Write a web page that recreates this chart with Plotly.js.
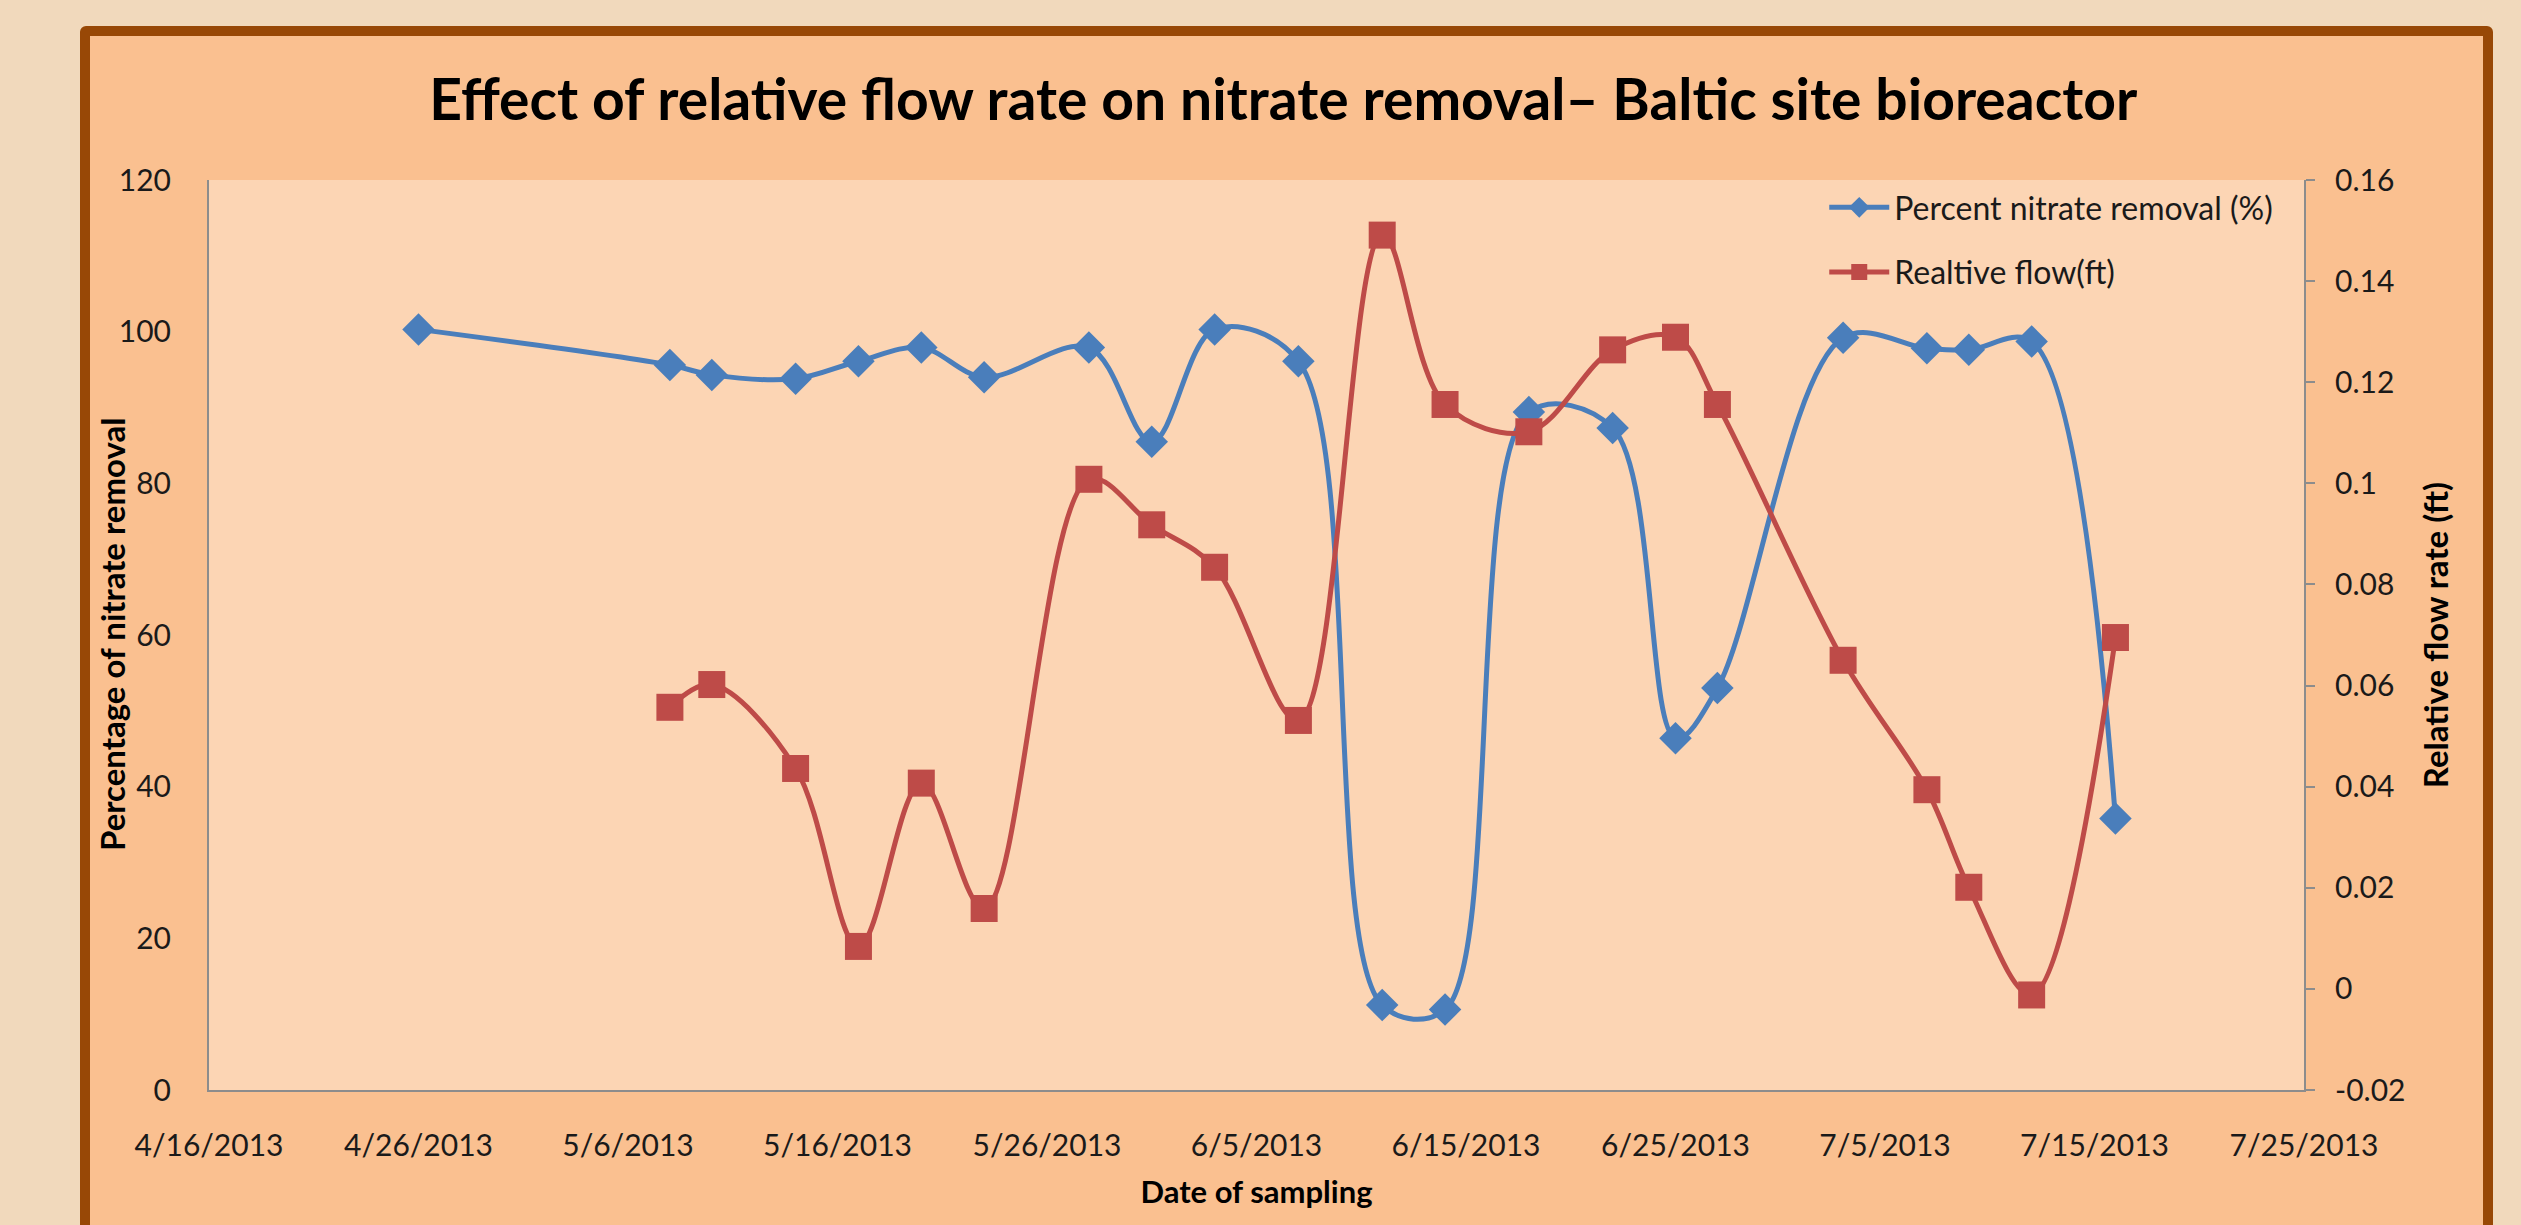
<!DOCTYPE html>
<html>
<head>
<meta charset="utf-8">
<script src="https://cdn.plot.ly/plotly-3.0.1.min.js"></script>
<style>
  html, body { margin: 0; padding: 0; width: 2521px; height: 1225px; overflow: hidden; background: #F1D9BC; }
  #frame { position: absolute; left: 80px; top: 26px; width: 2393px; height: 1300px; border: 10px solid #984806; border-radius: 6px; background: #FAC090; }
  #chart { position: absolute; left: 0; top: 0; width: 2521px; height: 1225px; }
</style>
</head>
<body>
<div id="frame"></div>
<div id="chart"></div>
<script>
// ---- data ----
const removalDates = ['2013-04-26','2013-05-08','2013-05-10','2013-05-14','2013-05-17','2013-05-20','2013-05-23','2013-05-28','2013-05-31','2013-06-03','2013-06-07','2013-06-11','2013-06-14','2013-06-18','2013-06-22','2013-06-25','2013-06-27','2013-07-03','2013-07-07','2013-07-09','2013-07-12','2013-07-16'];
const removalPercent = [100.3, 95.6, 94.3, 93.8, 96.1, 97.9, 94.0, 97.9, 85.5, 100.3, 96.1, 11.2, 10.6, 89.4, 87.3, 46.4, 53.0, 99.2, 97.8, 97.6, 98.7, 35.8];

const flowDates = ['2013-05-08','2013-05-10','2013-05-14','2013-05-17','2013-05-20','2013-05-23','2013-05-28','2013-05-31','2013-06-03','2013-06-07','2013-06-11','2013-06-14','2013-06-18','2013-06-22','2013-06-25','2013-06-27','2013-07-03','2013-07-07','2013-07-09','2013-07-12','2013-07-16'];
const relativeFlow = [0.0557, 0.0602, 0.0436, 0.0084, 0.0407, 0.0159, 0.1008, 0.0918, 0.0834, 0.0531, 0.1491, 0.1156, 0.1102, 0.1264, 0.1289, 0.1156, 0.065, 0.0394, 0.0201, -0.0012, 0.0695];

const xTickVals = ['2013-04-16','2013-04-26','2013-05-06','2013-05-16','2013-05-26','2013-06-05','2013-06-15','2013-06-25','2013-07-05','2013-07-15','2013-07-25'];
const xTickText = ['4/16/2013','4/26/2013','5/6/2013','5/16/2013','5/26/2013','6/5/2013','6/15/2013','6/25/2013','7/5/2013','7/15/2013','7/25/2013'];
const leftTickVals = [0, 20, 40, 60, 80, 100, 120];
const rightTickVals = [-0.02, 0, 0.02, 0.04, 0.06, 0.08, 0.1, 0.12, 0.14, 0.16];
const rightTickText = ['-0.02', '0', '0.02', '0.04', '0.06', '0.08', '0.1', '0.12', '0.14', '0.16'];

const seriesNames = ['Percent nitrate removal (%)', 'Realtive flow(ft)'];
const titleText = 'Effect of relative flow rate on nitrate removal\u2013 Baltic site bioreactor';
const leftAxisTitle = 'Percentage of nitrate removal';
const rightAxisTitle = 'Relative flow rate (ft)';
const xAxisTitle = 'Date of sampling';

const FONT = 'Lato, "Open Sans", sans-serif';
const BLUE = '#4A7EBB';
const RED = '#BE4B48';

const traces = [
  {
    x: removalDates, y: removalPercent, name: seriesNames[0],
    type: 'scatter', mode: 'lines+markers', legendgroup: 'a',
    line: { color: BLUE, width: 5, shape: 'spline', smoothing: 1 },
    marker: { symbol: 'diamond', size: 25, color: BLUE }
  },
  {
    x: flowDates, y: relativeFlow, name: seriesNames[1], yaxis: 'y2',
    type: 'scatter', mode: 'lines+markers', legendgroup: 'b',
    line: { color: RED, width: 5, shape: 'spline', smoothing: 1 },
    marker: { symbol: 'square', size: 27, color: RED }
  }
];

const axisLine = '#8C8C8C';
const layout = {
  width: 2521, height: 1225,
  paper_bgcolor: 'rgba(0,0,0,0)',
  plot_bgcolor: '#FCD5B4',
  margin: { l: 209, r: 217, t: 180, b: 135, pad: 0 },
  font: { family: FONT, color: '#1a1a1a', size: 30 },
  title: {
    text: titleText, xref: 'container', x: 0.509, xanchor: 'center',
    yref: 'container', y: 0.918, yanchor: 'middle',
    font: { family: FONT, size: 57, color: '#000', weight: 'bold' }
  },
  xaxis: {
    type: 'date', range: ['2013-04-16', '2013-07-25'],
    tickvals: xTickVals, ticktext: xTickText,
    showgrid: false, zeroline: false, showline: true, linecolor: axisLine, linewidth: 2,
    ticks: '', ticklabelstandoff: 28,
    tickfont: { family: FONT, size: 30, color: '#1a1a1a' },
    title: { text: xAxisTitle, standoff: 20, font: { family: FONT, size: 31, color: '#000', weight: 'bold' } }
  },
  yaxis: {
    range: [0, 120], tickvals: leftTickVals,
    showgrid: false, zeroline: false, showline: true, linecolor: axisLine, linewidth: 2,
    ticks: '', ticklabelstandoff: 30,
    tickfont: { family: FONT, size: 30, color: '#1a1a1a' }
  },
  yaxis2: {
    overlaying: 'y', side: 'right',
    range: [-0.02, 0.16], tickvals: rightTickVals, ticktext: rightTickText,
    showgrid: false, zeroline: false, showline: true, linecolor: axisLine, linewidth: 2,
    ticks: 'outside', ticklen: 9, tickwidth: 2, tickcolor: axisLine, ticklabelstandoff: 14,
    tickfont: { family: FONT, size: 30, color: '#1a1a1a' },
    title: { text: rightAxisTitle, standoff: 20, font: { family: FONT, size: 33, color: '#000', weight: 'bold' } }
  },
  annotations: [
    {
      text: leftAxisTitle, textangle: -90, showarrow: false,
      xref: 'paper', yref: 'paper', x: -0.0463, y: 0.5, xanchor: 'center', yanchor: 'middle',
      font: { family: FONT, size: 33, color: '#000', weight: 'bold' }
    }
  ],
  legend: {
    x: 0.771, xanchor: 'left', y: 1.0, yanchor: 'top',
    bgcolor: 'rgba(0,0,0,0)', borderwidth: 0,
    font: { family: FONT, size: 32, color: '#1a1a1a' },
    tracegroupgap: 20, itemwidth: 60
  },
  showlegend: true
};

Plotly.newPlot('chart', traces, layout, { displayModeBar: false, staticPlot: true });
</script>
</body>
</html>
